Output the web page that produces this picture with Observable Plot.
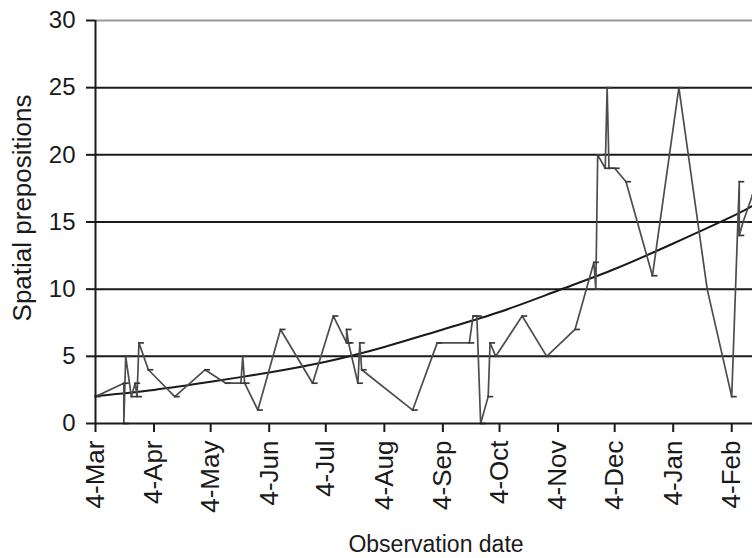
<!DOCTYPE html>
<html>
<head>
<meta charset="utf-8">
<script src="https://cdn.jsdelivr.net/npm/d3@7"></script>
<script src="https://cdn.jsdelivr.net/npm/@observablehq/plot@0.6"></script>
<style>
  html, body { margin: 0; padding: 0; background: #fff; }
  #chart { width: 752px; height: 558px; overflow: hidden; }
</style>
</head>
<body>
<div id="chart"></div>
<script>
// Observation dates and the number of spatial prepositions counted on each
const obsDates = [
  "2003-03-04","2003-03-19","2003-03-19","2003-03-20","2003-03-23","2003-03-25","2003-03-26","2003-03-27",
  "2003-04-01","2003-04-15","2003-05-01","2003-05-12","2003-05-20","2003-05-21","2003-05-22","2003-05-29",
  "2003-06-10","2003-06-27","2003-07-08","2003-07-15","2003-07-15","2003-07-16","2003-07-21","2003-07-22",
  "2003-07-23","2003-08-19","2003-09-01","2003-09-18","2003-09-20","2003-09-22","2003-09-24","2003-09-28",
  "2003-09-29","2003-10-02","2003-10-16","2003-10-29","2003-11-13","2003-11-23","2003-11-24","2003-11-25",
  "2003-11-29","2003-11-30","2003-12-01","2003-12-04","2003-12-10","2003-12-24","2004-01-07","2004-01-22",
  "2004-02-04","2004-02-08","2004-02-08","2004-02-10","2004-02-15"
];
const obsCounts = [
  2, 3, 0, 5, 2, 3, 2, 6,
  4, 2, 4, 3, 3, 5, 3, 1,
  7, 3, 8, 6, 7, 6, 3, 6,
  4, 1, 6, 6, 8, 8, 0, 2,
  6, 5, 8, 5, 7, 12, 10, 20,
  19, 25, 19, 19, 18, 11, 25, 10,
  2, 18, 14, 15, 17
];

// Growth trend, read at each monthly tick
const trendDates = [
  "2003-03-04","2003-04-04","2003-05-04","2003-06-04","2003-07-04","2003-08-04","2003-09-04",
  "2003-10-04","2003-11-04","2003-12-04","2004-01-04","2004-02-04","2004-02-15"
];
const trendValues = [2.05, 2.5, 3.1, 3.8, 4.6, 5.7, 7.0, 8.3, 9.9, 11.5, 13.4, 15.4, 16.2];

// Axis ticks
const xTickDates = [
  "2003-03-04","2003-04-04","2003-05-04","2003-06-04","2003-07-04","2003-08-04",
  "2003-09-04","2003-10-04","2003-11-04","2003-12-04","2004-01-04","2004-02-04"
];
const yTicks = [0, 5, 10, 15, 20, 25, 30];
const gridValues = [5, 10, 15, 20, 25];
const xDomain = ["2003-03-04", "2004-02-15"];

const parse = d3.utcParse("%Y-%m-%d");
const observations = obsDates.map((d, i) => ({date: parse(d), count: obsCounts[i]}));
const trend = trendDates.map((d, i) => ({date: parse(d), value: trendValues[i]}));

// Short horizontal dash used as the point marker
const dash = {
  draw(context) {
    context.moveTo(-1, 0);
    context.lineTo(5, 0);
  }
};

const chart = Plot.plot({
  width: 752,
  height: 558,
  marginLeft: 95,
  marginRight: 0,
  marginTop: 20,
  marginBottom: 135,
  style: {
    fontFamily: "'Liberation Sans', Arial, Helvetica, sans-serif",
    fontSize: "24px",
    color: "#1a1a1a",
    background: "#ffffff",
    overflow: "visible"
  },
  x: {type: "utc", domain: xDomain.map(parse)},
  y: {domain: [0, 30]},
  marks: [
    Plot.ruleY([30], {stroke: "#9a9a9a", strokeWidth: 2}),
    Plot.ruleY(gridValues, {stroke: "#1a1a1a", strokeWidth: 2}),
    Plot.line(trend, {x: "date", y: "value", curve: "natural", stroke: "#1a1a1a", strokeWidth: 2}),
    Plot.line(observations, {x: "date", y: "count", stroke: "#4d4d4d", strokeWidth: 1.7}),
    Plot.dot(observations, {x: "date", y: "count", symbol: dash, r: 3, fill: "none", stroke: "#3a3a3a", strokeWidth: 1.7}),
    Plot.ruleY([0], {stroke: "#1a1a1a", strokeWidth: 2}),
    Plot.ruleX([parse(xDomain[0])], {stroke: "#1a1a1a", strokeWidth: 2}),
    Plot.axisY({ticks: yTicks, tickSize: 9, tickPadding: 11, strokeWidth: 2, label: null, fontSize: 24}),
    Plot.axisX({
      ticks: xTickDates.map(parse),
      tickFormat: d3.utcFormat("%-d-%b"),
      tickRotate: -90,
      tickSize: 9,
      tickPadding: 8,
      strokeWidth: 2,
      label: null,
      fontSize: 26
    }),
    Plot.text(["Spatial prepositions"], {
      frameAnchor: "left", textAnchor: "middle", lineAnchor: "middle",
      rotate: -90, dx: -73, dy: -14, fontSize: 26, fill: "#1a1a1a"
    }),
    Plot.text(["Observation date"], {
      frameAnchor: "bottom", textAnchor: "middle", lineAnchor: "middle",
      dx: 12, dy: 121, fontSize: 23, fill: "#1a1a1a"
    })
  ]
});

document.getElementById("chart").appendChild(chart);
</script>
</body>
</html>
